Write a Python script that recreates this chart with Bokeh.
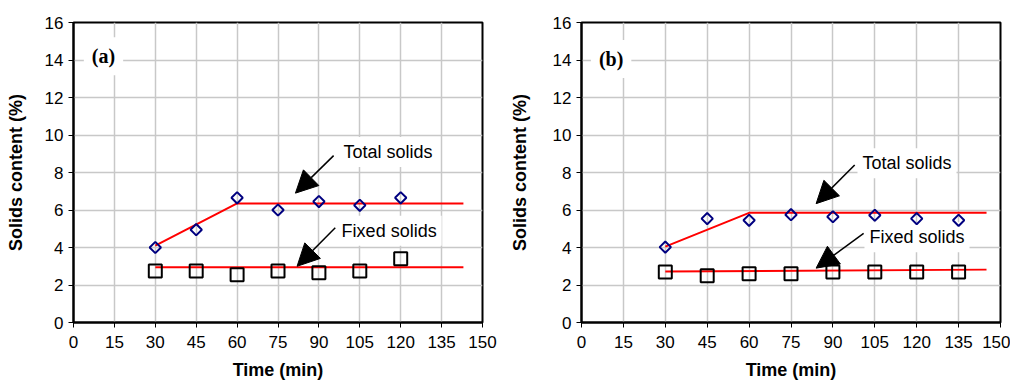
import math
from bokeh.plotting import figure
from bokeh.layouts import row
from bokeh.models import Label, Arrow, NormalHead, Range1d, FixedTicker
from bokeh.embed import file_html
from bokeh.resources import INLINE

# ---- data ----
time_a = [30, 45, 60, 75, 90, 105, 120]
total_a = [4.0, 4.95, 6.65, 6.0, 6.45, 6.25, 6.65]
fixed_a = [2.75, 2.75, 2.55, 2.75, 2.65, 2.75, 3.4]
total_fit_a_x = [30, 60, 143]
total_fit_a_y = [4.1, 6.35, 6.35]
fixed_fit_a_x = [30, 143]
fixed_fit_a_y = [2.95, 2.95]

time_b = [30, 45, 60, 75, 90, 105, 120, 135]
total_b = [4.02, 5.54, 5.45, 5.75, 5.64, 5.72, 5.54, 5.45]
fixed_b = [2.7, 2.5, 2.6, 2.6, 2.7, 2.7, 2.7, 2.7]
total_fit_b_x = [30, 60, 145]
total_fit_b_y = [4.05, 5.85, 5.85]
fixed_fit_b_x = [30, 145]
fixed_fit_b_y = [2.72, 2.82]

x_ticks = [0, 15, 30, 45, 60, 75, 90, 105, 120, 135, 150]
y_ticks = [0, 2, 4, 6, 8, 10, 12, 14, 16]

FONT = "Liberation Sans"


def make_fig(width, border_left, border_right, ylab_standoff):
    p = figure(width=width, height=382, output_backend="svg", toolbar_location=None,
               x_range=Range1d(0, 150), y_range=Range1d(0, 16),
               min_border_left=border_left, min_border_right=border_right,
               min_border_top=22, min_border_bottom=59)
    p.outline_line_color = "black"
    p.outline_line_width = 2
    p.xaxis.ticker = FixedTicker(ticks=x_ticks)
    p.yaxis.ticker = FixedTicker(ticks=y_ticks)
    for ax in (p.xaxis, p.yaxis):
        ax.axis_line_color = "black"
        ax.axis_line_width = 2
        ax.major_tick_line_color = "black"
        ax.major_tick_out = 5
        ax.major_tick_in = 0
        ax.minor_tick_line_color = None
        ax.major_label_text_font = FONT
        ax.major_label_text_font_size = "17px"
        ax.major_label_text_color = "black"
        ax.axis_label_text_font = FONT
        ax.axis_label_text_font_size = "18px"
        ax.axis_label_text_font_style = "bold"
        ax.axis_label_text_color = "black"
    p.xaxis.major_label_standoff = 8
    p.xaxis.axis_label_standoff = 9
    p.yaxis.major_label_standoff = 5
    p.yaxis.axis_label_standoff = ylab_standoff
    p.xaxis.axis_label = "Time (min)"
    p.yaxis.axis_label = "Solids content (%)"
    p.xgrid.ticker = FixedTicker(ticks=x_ticks)
    p.ygrid.ticker = FixedTicker(ticks=y_ticks)
    p.grid.grid_line_color = "#c8c8c8"
    p.grid.grid_line_width = 1.5
    return p


def add_content(p, t, tot, fix, tfx, tfy, ffx, ffy, tag, tag_xy,
                tlab_xy, tarrow, flab_xy, farrow):
    p.add_layout(Label(x=tag_xy[0], y=tag_xy[1], text=tag, text_font="Liberation Serif",
                       text_font_style="bold", text_font_size="20px", text_color="black",
                       text_baseline="middle", text_align="center",
                       background_fill_color="white", padding=8, level="underlay"))
    for (lx, ly), txt in ((tlab_xy, "Total solids"), (flab_xy, "Fixed solids")):
        p.add_layout(Label(x=lx, y=ly, text=txt, text_font=FONT, text_font_size="18px",
                           text_color="black", text_baseline="middle", text_align="left",
                           background_fill_color="white", padding=5, level="underlay"))
    p.line(tfx, tfy, line_color="red", line_width=2)
    p.line(ffx, ffy, line_color="red", line_width=2)
    p.scatter(t, tot, marker="square", angle=math.pi / 4, size=8, fill_color=None,
              line_color="#000080", line_width=2)
    p.scatter(t, fix, marker="square", size=13, fill_color=None,
              line_color="black", line_width=2)
    for (ax0, ay0, ax1, ay1) in (tarrow, farrow):
        p.add_layout(Arrow(x_start=ax0, y_start=ay0, x_end=ax1, y_end=ay1,
                           line_color="black", line_width=1.5,
                           end=NormalHead(size=22, fill_color="black", line_color="black")))


pa = make_fig(506, 73, 24, 16)
add_content(pa, time_a, total_a, fixed_a, total_fit_a_x, total_fit_a_y,
            fixed_fit_a_x, fixed_fit_a_y, "(a)", (11, 14.2),
            (97.2, 9.1), (95.4, 8.9, 81.4, 6.9),
            (96.5, 4.9), (96.0, 5.05, 82.0, 3.0))

pb = make_fig(504, 71, 10, 20)
add_content(pb, time_b, total_b, fixed_b, total_fit_b_x, total_fit_b_y,
            fixed_fit_b_x, fixed_fit_b_y, "(b)", (10.6, 14.05),
            (98.8, 8.5), (97.8, 8.4, 84.0, 6.34),
            (101.3, 4.55), (101.0, 4.75, 84.0, 2.9))

layout = row(pa, pb)
open("out.html", "w").write(file_html(layout, INLINE))
